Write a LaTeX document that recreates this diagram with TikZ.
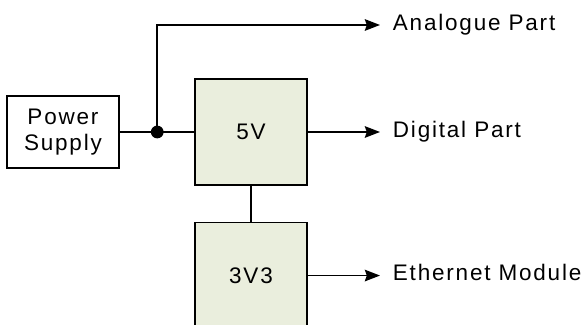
\documentclass[tikz,border=0pt]{standalone}
\usepackage{fontspec}
\setmainfont{Liberation Sans}[LetterSpace=8]
\usepackage{xcolor}
\usepackage{tikz}
\usetikzlibrary{positioning,calc,arrows.meta}

\definecolor{regfill}{RGB}{234,238,221}

\begin{document}
\begin{tikzpicture}[auto, node distance=2cm,
    every node/.style={font=\fontsize{16}{19}\selectfont},
    psubox/.style={draw, rectangle, line width=1.8pt, minimum width=2.8cm, minimum height=1.8cm, align=center},
    regbox/.style={draw, rectangle, line width=1.1pt, fill=regfill, minimum width=2.8cm, minimum height=2.65cm},
    lbl/.style={anchor=west, inner xsep=9pt, text height=0.716em, text depth=0pt},
    wire/.style={line width=1.1pt},
    feed/.style={line width=1.1pt, -{Stealth[length=3.8mm, width=2.9mm, inset=0.5mm]}}]
    \useasboundingbox (0,0) rectangle (14.675,-8.125);

    % Regulators
    \node [regbox] (reg5) at (6.275,-3.3) {5V};
    \node [regbox, below=0.9cm of reg5] (reg33) {3V3};
    \draw [wire] (reg5) -- (reg33);

    % Supply Side
    \node [psubox, left=1.85cm of reg5] (psu) {Power\\Supply};
    \coordinate (junc) at ($(psu.east)!0.5!(reg5.west)$);
    \draw [wire] (psu) -- (junc) -- (reg5);
    \fill (junc) circle (0.16cm);

    % Outputs
    \node [lbl] (analog) at (9.5,-0.625) {Analogue Part};
    \node [lbl] (digital) at (9.5,-3.3) {Digital Part};
    \node [lbl] (ether) at (reg33.center -| digital.west) {Ethernet Module};

    \draw [feed] (junc) |- (analog.west);
    \draw [feed] (reg5.east) -- (digital.west);
    \draw [feed] (reg33.east) -- (ether.west);

\end{tikzpicture}
\end{document}
